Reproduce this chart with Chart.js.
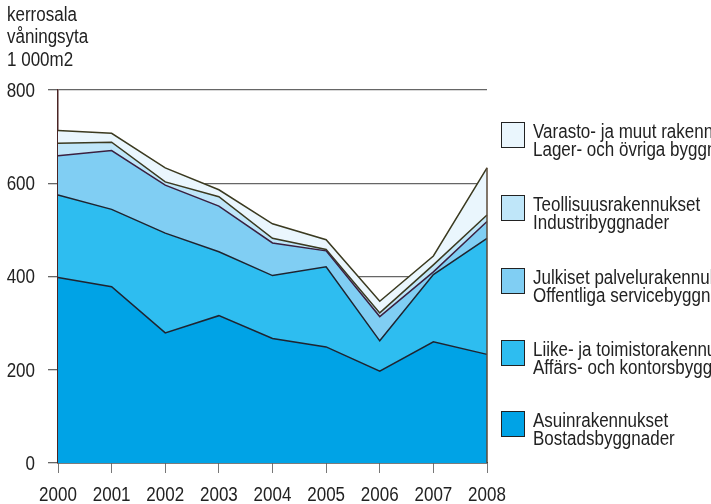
<!DOCTYPE html>
<html>
<head>
<meta charset="utf-8">
<script src="https://cdn.jsdelivr.net/npm/chart.js@4"></script>
<style>
  html, body { margin: 0; padding: 0; background: #fff; overflow: hidden; }
  #wrap { position: relative; width: 711px; height: 504px; overflow: hidden; }
  #chart { position: absolute; left: 0; top: 0; }
  .txt { position: absolute; font-family: "Liberation Sans", Arial, sans-serif;
         font-size: 17px; color: #222; white-space: nowrap;
         transform: scaleY(1.14); transform-origin: 0 0; }
  .box { position: absolute; width: 22px; height: 24px; border: 1.5px solid #222; }
</style>
</head>
<body>
<div id="wrap">
  <canvas id="chart" width="711" height="504"></canvas>
  <div class="txt" id="ytitle" style="left:7px; top:4px; line-height:19.3px;">kerrosala<br>våningsyta<br>1 000m2</div>
  <div id="legend"></div>
</div>
<script>
// Years on the x axis
const years = ['2000', '2001', '2002', '2003', '2004', '2005', '2006', '2007', '2008'];

// Floor area by building type, 1 000 m2 (stacked from the bottom up)
const asuin      = [398, 378, 279, 316, 267, 249, 197, 260, 233];
const liike      = [177, 166, 214, 137, 135, 172,  65, 144, 249];
const julkiset   = [ 84, 126, 103,  98,  70,  34,  52,   6,  36];
const teollisuus = [ 27,  18,   7,  20,  10,   3,   8,  15,  14];
const varasto    = [ 27,  19,  30,  15,  31,  21,  25,  19, 101];

// Legend texts, Finnish / Swedish
const seriesNames = [
  ['Asuinrakennukset', 'Bostadsbyggnader'],
  ['Liike- ja toimistorakennukset', 'Affärs- och kontorsbyggnader'],
  ['Julkiset palvelurakennukset', 'Offentliga servicebyggnader'],
  ['Teollisuusrakennukset', 'Industribyggnader'],
  ['Varasto- ja muut rakennukset', 'Lager- och övriga byggnader']
];

// Y axis ticks
const yTicks = [0, 200, 400, 600, 800];

const fills   = ['#00a3e6', '#2ebdf0', '#80cef3', '#bfe6f9', '#eaf6fd'];
const borders = ['#1e2430', '#1e2430', '#3a2040', '#3b3a20', '#3b3a20'];
const values  = [asuin, liike, julkiset, teollisuus, varasto];

const FONT = '17px "Liberation Sans", Arial, sans-serif';
const STRETCH = 1.14;   // tall, narrow lettering

// Vertical edge of the stack at the last year
const edgePlugin = {
  id: 'stackEdge',
  afterDatasetsDraw(chart) {
    const x = chart.scales.x, y = chart.scales.y, ctx = chart.ctx;
    const last = years.length - 1;
    const top = values.reduce((s, v) => s + v[last], 0);
    ctx.save();
    ctx.strokeStyle = '#5a4a38';
    ctx.lineWidth = 1.5;
    ctx.beginPath();
    ctx.moveTo(x.getPixelForValue(last), y.getPixelForValue(0));
    ctx.lineTo(x.getPixelForValue(last), y.getPixelForValue(top));
    ctx.stroke();
    ctx.restore();
  }
};

// Tick labels in the tall lettering, placed from the scales
const tickLabelPlugin = {
  id: 'tallTicks',
  afterDraw(chart) {
    const ctx = chart.ctx, xs = chart.scales.x, ys = chart.scales.y;
    ctx.save();
    ctx.font = FONT;
    ctx.fillStyle = '#222';
    ctx.textAlign = 'right';
    ctx.textBaseline = 'middle';
    yTicks.forEach(v => {
      ctx.save();
      ctx.translate(xs.left - 23, ys.getPixelForValue(v) + 1.5);
      ctx.scale(1, STRETCH);
      ctx.fillText(String(v), 0, 0);
      ctx.restore();
    });
    ctx.textAlign = 'center';
    ctx.textBaseline = 'alphabetic';
    years.forEach((lab, i) => {
      ctx.save();
      ctx.translate(xs.getPixelForValue(i), ys.bottom + 38);
      ctx.scale(1, STRETCH);
      ctx.fillText(lab, 0, 0);
      ctx.restore();
    });
    ctx.restore();
  }
};

new Chart(document.getElementById('chart'), {
  type: 'line',
  data: {
    labels: years,
    datasets: values.map((v, i) => ({
      label: seriesNames[i][0],
      data: v,
      backgroundColor: fills[i],
      borderColor: borders[i],
      borderWidth: 1.5,
      pointRadius: 0,
      tension: 0,
      fill: i === 0 ? 'origin' : '-1'
    }))
  },
  options: {
    responsive: false,
    animation: false,
    layout: { padding: { left: 0, right: 224, top: 90, bottom: 0 } },
    plugins: { legend: { display: false }, tooltip: { enabled: false } },
    scales: {
      x: {
        offset: false,
        grid: { drawOnChartArea: false, drawTicks: true, tickLength: 10, color: '#777', lineWidth: 1 },
        border: { color: '#222', width: 1.5 },
        ticks: { display: false, autoSkip: false },
        afterFit(s) { s.height = 41; }
      },
      y: {
        stacked: true,
        min: 0, max: 800,
        afterBuildTicks(s) { s.ticks = yTicks.map(v => ({ value: v })); },
        grid: { color: '#666', lineWidth: 1.3, tickLength: 10 },
        border: { color: '#4a2424', width: 1.5 },
        ticks: { display: false },
        afterFit(s) { s.width = 58; }
      }
    }
  },
  plugins: [edgePlugin, tickLabelPlugin]
});

// Legend, top entry = top of the stack
const legend = document.getElementById('legend');
const legendTops = [411, 340, 268, 195, 122];
for (let i = 4; i >= 0; i--) {
  const box = document.createElement('div');
  box.className = 'box';
  box.style.left = '501px';
  box.style.top = legendTops[i] + 'px';
  box.style.background = fills[i];
  legend.appendChild(box);
  const t = document.createElement('div');
  t.className = 'txt';
  t.style.left = '533px';
  t.style.top = (legendTops[i] + 0.5) + 'px';
  t.style.lineHeight = '16.4px';
  t.innerHTML = seriesNames[i][0] + '<br>' + seriesNames[i][1];
  legend.appendChild(t);
}
</script>
</body>
</html>
